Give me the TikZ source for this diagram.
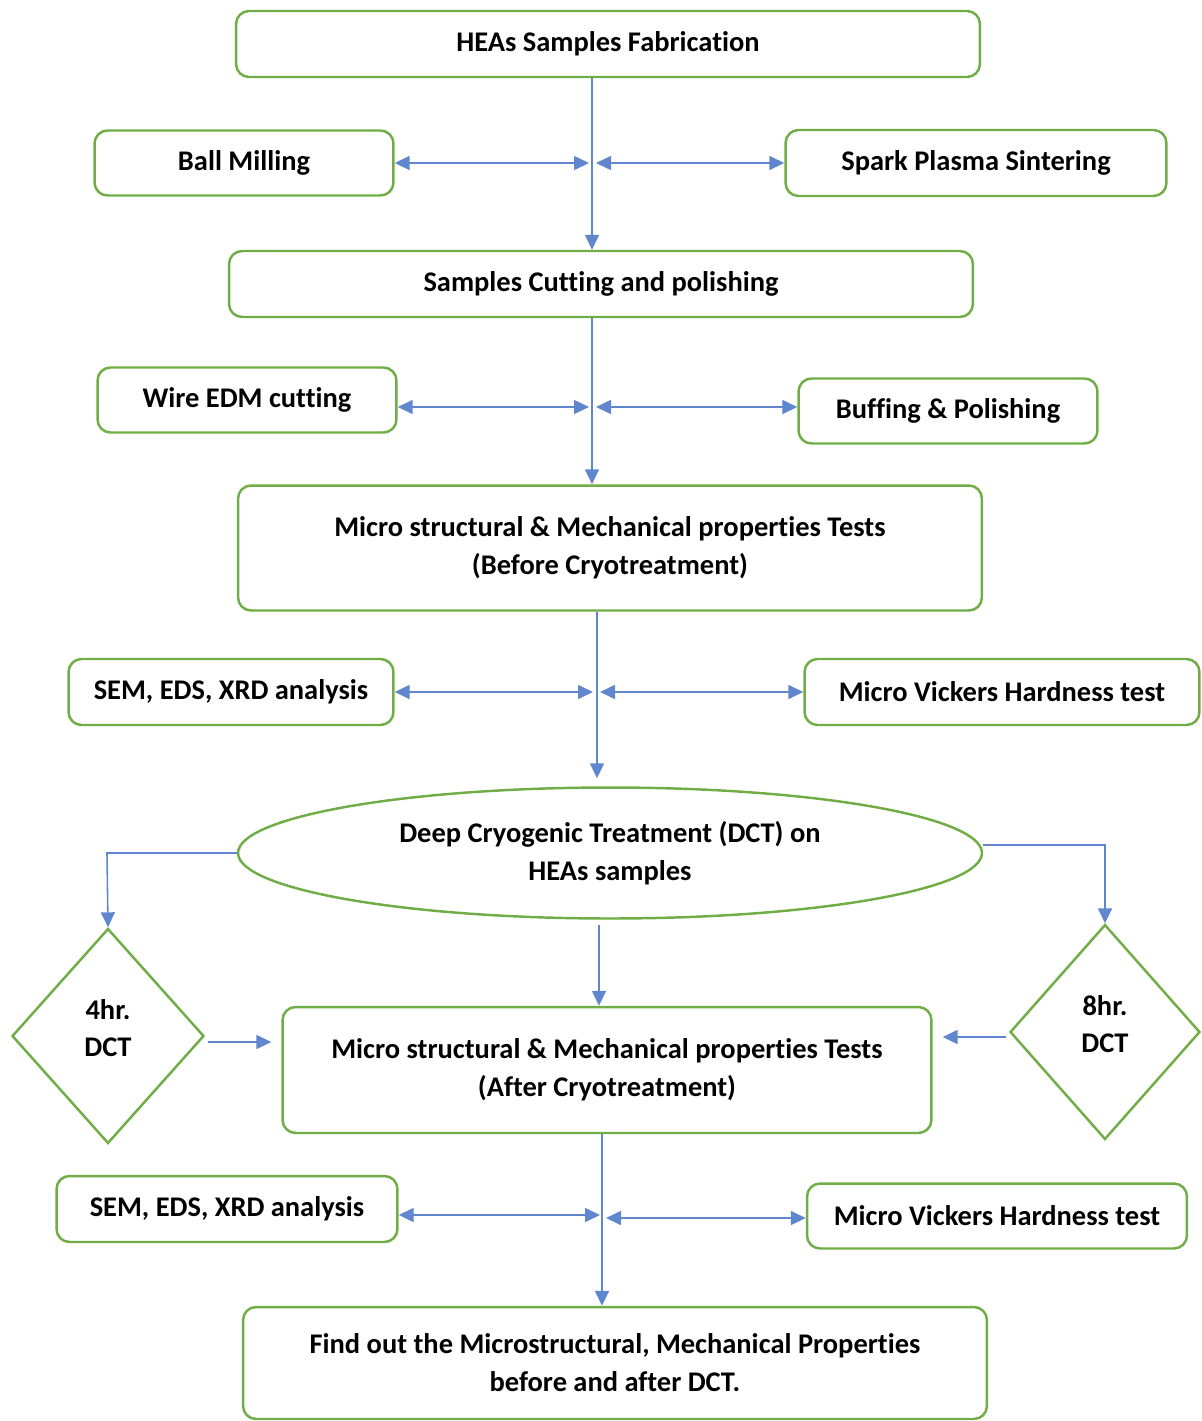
\documentclass[tikz,border=0pt]{standalone}
\usepackage{fontspec}
\setmainfont[Ligatures=NoCommon]{Carlito}
\usepackage{xcolor}
\usepackage{tikz}
\usetikzlibrary{shapes.geometric, arrows.meta, positioning}
\definecolor{boxgreen}{RGB}{112,173,71}
\definecolor{linkblue}{RGB}{68,114,196}

\begin{document}
\begin{tikzpicture}[x=0.02cm, y=-0.02cm,
    every node/.style={font=\fontsize{16.2}{21.6}\selectfont\bfseries},
    stage/.style={draw=boxgreen, line width=1.4pt, rounded corners=0.26cm, align=center, inner sep=0pt},
    oval/.style={draw=boxgreen, line width=1.4pt, ellipse, align=center, inner sep=0pt},
    choice/.style={draw=boxgreen, line width=1.4pt, diamond, align=center, inner sep=0pt, text depth=0.32cm},
    link/.style={draw=linkblue!85, line width=0.9pt, >={Triangle[length=0.3cm, width=0.28cm]}}]
    \useasboundingbox (0,0) rectangle (1202,1421);
    % Fabrication
    \node[stage, minimum width=14.88cm, minimum height=1.32cm] (fab) at (608,44) {HEAs Samples Fabrication};
    \node[stage, minimum width=5.98cm, minimum height=1.3cm] (ball) at (244,163) {Ball Milling};
    \node[stage, minimum width=7.62cm, minimum height=1.32cm] (sps) at (976,163) {Spark Plasma Sintering};
    \node[stage, minimum width=14.88cm, minimum height=1.32cm] (cut) at (601,284) {Samples Cutting and polishing};
    \node[stage, minimum width=5.98cm, minimum height=1.3cm] (edm) at (247,400) {Wire EDM cutting};
    \node[stage, minimum width=5.98cm, minimum height=1.3cm] (buff) at (948,411) {Buffing \& Polishing};
    % Tests before
    \node[stage, minimum width=14.88cm, minimum height=2.5cm] (before) at (610,548) {Micro structural \& Mechanical properties Tests\\(Before Cryotreatment)};
    \node[stage, minimum width=6.5cm, minimum height=1.32cm] (sem1) at (231,692) {SEM, EDS, XRD analysis};
    \node[stage, minimum width=7.9cm, minimum height=1.32cm] (vick1) at (1002,692) {Micro Vickers Hardness test};
    % Cryotreatment
    \node[oval, minimum width=14.88cm, minimum height=2.62cm] (dct) at (610,853) {Deep Cryogenic Treatment (DCT) on\\HEAs samples};
    \node[choice, minimum width=3.84cm, minimum height=4.3cm] (four) at (108,1036) {4hr.\\DCT};
    \node[choice, minimum width=3.8cm, minimum height=4.3cm] (eight) at (1105,1032) {8hr.\\DCT};
    % Tests after
    \node[stage, minimum width=12.98cm, minimum height=2.52cm] (after) at (607,1070) {Micro structural \& Mechanical properties Tests\\(After Cryotreatment)};
    \node[stage, minimum width=6.82cm, minimum height=1.32cm] (sem2) at (227,1209) {SEM, EDS, XRD analysis};
    \node[stage, minimum width=7.6cm, minimum height=1.3cm] (vick2) at (997,1216) {Micro Vickers Hardness test};
    \node[stage, minimum width=14.88cm, minimum height=2.24cm] (result) at (615,1363) {Find out the Microstructural, Mechanical Properties\\before and after DCT.};

    % junctions on the main line
    \coordinate (j1l) at (589,163);
    \coordinate (j1r) at (596,163);
    \coordinate (j2l) at (589,407);
    \coordinate (j2r) at (596,407);
    \coordinate (j3l) at (593,692);
    \coordinate (j3r) at (600,692);
    \coordinate (j4l) at (600,1215);
    \coordinate (j4r) at (606,1218);
    \coordinate (lcorner) at (107,853);
    \coordinate (rcorner) at (1105,845);

    \draw[link, ->] (fab.south -| 592,0) -- (cut.north -| 592,0);
    \draw[link, <->] (ball.east |- j1l) -- (j1l);
    \draw[link, <->] (j1r) -- (sps.west |- j1r);
    \draw[link, ->] (cut.south -| 592,0) -- (before.north -| 592,0);
    \draw[link, <->] (edm.east |- j2l) -- (j2l);
    \draw[link, <->] (j2r) -- (buff.west |- j2r);
    \draw[link, ->] (before.south -| 597,0) -- ([yshift=0.16cm]dct.north -| 597,0);
    \draw[link, <->] (sem1.east |- j3l) -- (j3l);
    \draw[link, <->] (j3r) -- (vick1.west |- j3r);
    \draw[link, ->] ([yshift=-0.1cm]dct.south -| 599,0) -- (after.north -| 599,0);
    \draw[link, ->] (dct.west) -- (lcorner) -- (four.north);
    \draw[link, ->] (dct.east |- rcorner) -- (rcorner) -- (eight.north);
    \draw[link, ->] ([xshift=0.06cm]four.east |- 0,1042) -- ([xshift=-0.2cm]after.west |- 0,1042);
    \draw[link, ->] ([xshift=-0.06cm]eight.west |- 0,1037) -- ([xshift=0.2cm]after.east |- 0,1037);
    \draw[link, ->] (after.south -| 602,0) -- (result.north -| 602,0);
    \draw[link, <->] (sem2.east |- j4l) -- (j4l);
    \draw[link, <->] (j4r) -- (vick2.west |- j4r);
\end{tikzpicture}
\end{document}
